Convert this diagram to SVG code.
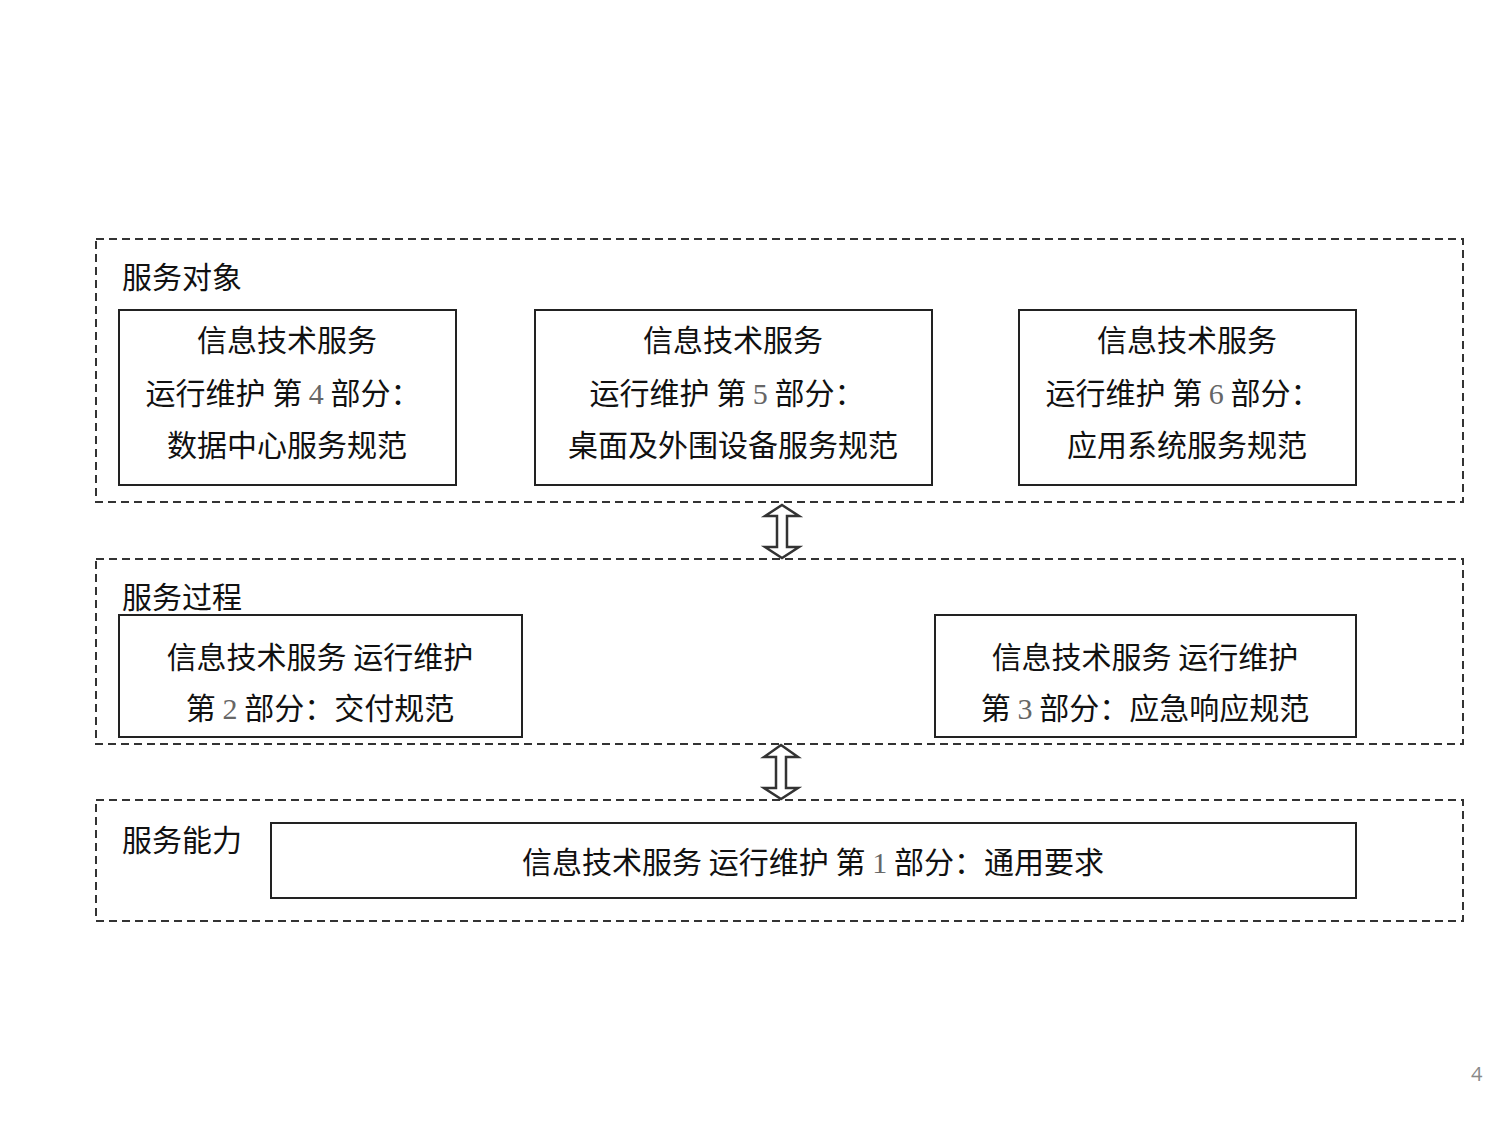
<svg xmlns="http://www.w3.org/2000/svg" width="1500" height="1125" viewBox="0 0 1500 1125">
<style>
.grp{fill:none;stroke:#333;stroke-width:2;stroke-dasharray:8,5}
.box{fill:#fff;stroke:#222;stroke-width:2}
text{font-family:"Noto Sans CJK SC","Liberation Sans",sans-serif;font-size:30px;fill:#111}
.c{text-anchor:middle}
.d{font-family:"Liberation Serif",serif;fill:#666}
.arr{fill:#fff;stroke:#333;stroke-width:2.5;stroke-linejoin:miter}
</style>
<rect width="1500" height="1125" fill="#fff"/>
<g id="group-objects">
<rect class="grp" x="96" y="239" width="1367" height="263"/>
<text x="122" y="288">服务对象</text>
</g>
<g id="group-process">
<rect class="grp" x="96" y="559" width="1367" height="185"/>
<text x="122" y="608">服务过程</text>
</g>
<g id="group-capability">
<rect class="grp" x="96" y="800" width="1367" height="121"/>
<text x="122" y="851">服务能力</text>
</g>
<g id="node-part4">
<rect class="box" x="119" y="310" width="337" height="175"/>
<text class="c" x="287" y="351">信息技术服务</text>
<text class="c" x="283" y="404">运行维护 第 <tspan class="d">4</tspan> 部分：</text>
<text class="c" x="287" y="456">数据中心服务规范</text>
</g>
<g id="node-part5">
<rect class="box" x="535" y="310" width="397" height="175"/>
<text class="c" x="733" y="351">信息技术服务</text>
<text class="c" x="727" y="404">运行维护 第 <tspan class="d">5</tspan> 部分：</text>
<text class="c" x="733" y="456">桌面及外围设备服务规范</text>
</g>
<g id="node-part6">
<rect class="box" x="1019" y="310" width="337" height="175"/>
<text class="c" x="1187" y="351">信息技术服务</text>
<text class="c" x="1183" y="404">运行维护 第 <tspan class="d">6</tspan> 部分：</text>
<text class="c" x="1187" y="456">应用系统服务规范</text>
</g>
<g id="node-part2">
<rect class="box" x="119" y="615" width="403" height="122"/>
<text class="c" x="320" y="668">信息技术服务 运行维护</text>
<text class="c" x="320" y="719">第 <tspan class="d">2</tspan> 部分：交付规范</text>
</g>
<g id="node-part3">
<rect class="box" x="935" y="615" width="421" height="122"/>
<text class="c" x="1145" y="668">信息技术服务 运行维护</text>
<text class="c" x="1145" y="719">第 <tspan class="d">3</tspan> 部分：应急响应规范</text>
</g>
<g id="node-part1">
<rect class="box" x="271" y="823" width="1085" height="75"/>
<text class="c" x="813" y="873">信息技术服务 运行维护 第 <tspan class="d">1</tspan> 部分：通用要求</text>
</g>
<g id="connectors">
<path class="arr" d="M782,505 L799,516 L787,516 L787,547 L799,547 L782,558 L765,547 L777,547 L777,516 L765,516 Z"/>
<path class="arr" d="M781,745 L798,757 L786,757 L786,788 L798,788 L781,799 L764,788 L776,788 L776,757 L764,757 Z"/>
</g>
<text x="1471" y="1081" style="font-family:'Open Sans','Liberation Sans',sans-serif;font-size:20px;fill:#888">4</text>
</svg>
